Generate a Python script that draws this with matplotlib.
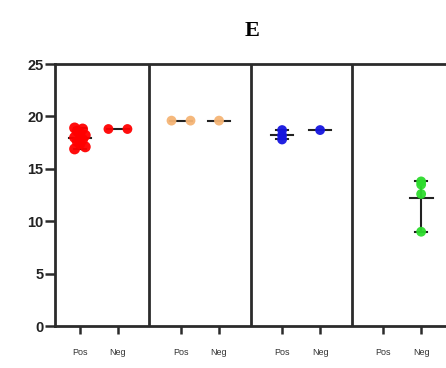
"""Scatter dot plot of Pos/Neg values for four groups, panel E."""

import numpy as np
import matplotlib.pyplot as plt

# Values per group (Pos, Neg)
group_colors = ["#ff0000", "#f5b475", "#1515e0", "#2ddc2d"]
pos_values = [
    [16.9, 17.1, 17.4, 17.6, 17.8, 18.0, 18.2, 18.4, 18.6, 18.8, 18.9],
    [19.6, 19.6],
    [17.8, 18.2, 18.7],
    [],
]
neg_values = [
    [18.8, 18.8],
    [19.6],
    [18.7],
    [13.8, 13.5, 12.6, 9.0],
]
tick_labels = ["Pos", "Neg"]
y_ticks = [0, 5, 10, 15, 20, 25]

GROUP_STEP = 2.66
EDGE = 0.66
AXIS_COLOR = "#2b2b2b"

plt.rcParams["font.family"] = ["Liberation Sans", "DejaVu Sans"]

fig = plt.figure(figsize=(4.46, 3.68), dpi=100)
ax = fig.add_axes([0.123, 0.114, 0.892, 0.712])


def spread(n, width):
    """Small side-by-side offsets so stacked dots stay visible."""
    if n <= 4:
        return np.zeros(n)
    pattern = np.array([-1.0, 1.0, 0.0, -0.5, 0.5])
    return np.resize(pattern, n) * width


xticks = []
for i, color in enumerate(group_colors):
    x0 = i * GROUP_STEP
    for j, vals in enumerate([pos_values[i], neg_values[i]]):
        x = x0 + j
        xticks.append(x)
        vals = np.asarray(vals, dtype=float)
        if vals.size == 0:
            continue
        if vals.size == 2 and np.allclose(vals[0], vals[1]):
            offs = np.array([-0.25, 0.25])
        else:
            offs = spread(vals.size, 0.14)
        mean = vals.mean()
        # mean line
        ax.plot([x - 0.3, x + 0.3], [mean, mean], color="#222222",
                lw=1.5, zorder=3)
        if vals.size > 2:
            # range error bar
            ax.plot([x, x], [vals.min(), vals.max()], color="#222222",
                    lw=1.5, zorder=3)
            for cap in (vals.min(), vals.max()):
                ax.plot([x - 0.15, x + 0.15], [cap, cap], color="#222222",
                        lw=1.5, zorder=3)
        size = 62 if vals.size > 4 else 50
        ax.scatter(x + offs, vals, s=size, color=color, edgecolors="none",
                   zorder=4, alpha=0.95)

# vertical dividers between groups
for i in range(1, len(group_colors)):
    ax.axvline(i * GROUP_STEP - (GROUP_STEP - 1) / 2, color=AXIS_COLOR,
               lw=2, zorder=2)

ax.set_xlim(-EDGE, (len(group_colors) - 1) * GROUP_STEP + 1 + (GROUP_STEP - 1) / 2)
ax.set_ylim(0, 25)
ax.set_yticks(y_ticks)
ax.set_yticklabels([str(t) for t in y_ticks], fontsize=10.5, fontweight="bold",
                   color="#222222")
ax.set_xticks(xticks)
ax.set_xticklabels(tick_labels * len(group_colors), fontsize=6.5,
                   color="#333333")

for side in ["left", "top", "bottom"]:
    ax.spines[side].set_linewidth(2)
    ax.spines[side].set_color(AXIS_COLOR)
ax.spines["right"].set_visible(False)
ax.tick_params(axis="y", length=7, width=1.8, color=AXIS_COLOR, pad=1)
ax.tick_params(axis="x", length=6, width=1.8, color=AXIS_COLOR, pad=10)

fig.text(0.565, 0.915, "E", ha="center", va="center", fontsize=16,
         fontweight="bold", family=["Liberation Serif", "DejaVu Serif"])

fig.savefig("out.png", dpi=100)
